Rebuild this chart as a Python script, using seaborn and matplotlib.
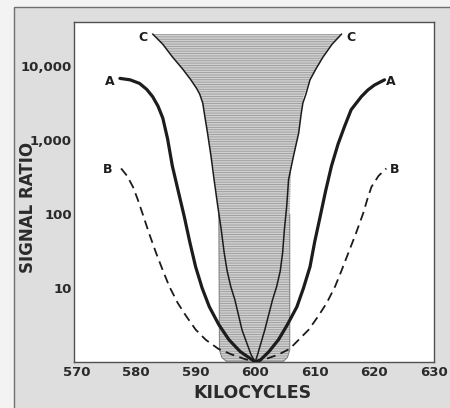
import numpy as np
import pandas as pd
import matplotlib
matplotlib.use("Agg")
from matplotlib import pyplot as plt
from matplotlib.patches import Rectangle
import seaborn as sns

sns.set_style("white")
plt.rcParams['font.family'] = ['DejaVu Sans']
plt.rcParams['hatch.linewidth'] = 0.6

# values (kilocycles / signal ratio)
A_kc = [577.3, 579.0, 580.6, 581.8, 582.8, 583.7, 584.5, 585.3, 586.1, 587.1, 588.1, 589.0,
        590.0, 591.1, 592.3, 593.9, 595.6, 597.5, 599.5, 600.0,
        600.9, 602.3, 603.9, 605.4, 607.0, 608.1, 609.2, 610.0, 610.9, 611.8, 612.8,
        613.9, 615.0, 616.1, 617.8, 618.9, 620.0, 621.7]
A_ratio = [6900, 6600, 5900, 4900, 3900, 2900, 2000, 1050, 450, 204, 93, 43,
           19.5, 10, 5.6, 3.2, 2.0, 1.38, 1.07, 1.0,
           1.07, 1.38, 2.0, 3.2, 5.6, 10, 19.5, 43, 93, 204, 450,
           890, 1550, 2600, 3900, 4800, 5600, 6600]

B_kc = [577.5, 578.5, 579.5, 580.3, 581.1, 582.2, 583.4, 584.5, 585.6, 587.0, 588.4, 590.0,
        591.7, 593.8, 596.1, 598.2, 600.0,
        601.8, 603.9, 605.8, 607.3, 609.0, 610.6, 612.0, 613.4, 614.5, 615.6, 616.9,
        618.1, 618.8, 619.5, 620.7, 622.0]
B_ratio = [417, 331, 234, 158, 102, 55, 29.5, 17.4, 10.5, 6.3, 4.2, 2.75,
           2.0, 1.51, 1.26, 1.10, 1.0,
           1.10, 1.26, 1.51, 2.0, 2.75, 4.2, 6.3, 10.5, 17.4, 29.5, 55,
           102, 158, 234, 331, 417]

C_kc = [582.8, 584.5, 586.1, 587.8, 589.2, 590.2, 590.7, 591.2, 591.5, 592.0, 592.6, 593.1, 593.7,
        594.3, 594.8, 595.3, 595.9, 596.6, 597.8, 599.3, 600.0,
        600.4, 601.6, 602.9, 603.6, 604.2, 604.6, 604.9, 605.3, 605.6, 606.4, 607.3, 607.7,
        608.0, 608.5, 609.2, 610.2, 611.4, 612.9, 614.5]
C_ratio = [27500, 20000, 13500, 9300, 6600, 5000, 4200, 3200, 2240, 1260, 600, 295, 132,
           62, 30, 17, 10.5, 6.9, 2.7, 1.26, 1.0,
           1.26, 2.7, 6.9, 10.5, 17, 30, 62, 132, 295, 600, 1260, 2240,
           3200, 4200, 6600, 9300, 13500, 20000, 27500]

# shaded pass band outline
shade_ratio = [27500, 20000, 13500, 9300, 6600, 5000, 3900, 2240, 1260, 600, 400, 100,
               1.45, 1.15, 1.0]
shade_left = [582.8, 584.5, 586.1, 587.8, 589.2, 590.2, 590.9, 591.5, 592.0, 592.6, 593.0, 593.9,
              594.0, 594.4, 595.3]
shade_right = [614.5, 612.9, 611.4, 610.2, 609.2, 608.6, 608.1, 607.7, 607.3, 606.4, 606.0, 605.8,
               605.8, 605.4, 604.6]

xticks = [570, 580, 590, 600, 610, 620, 630]
yticks = [10, 100, 1000, 10000]
ytick_labels = ["10", "100", "1,000", "10,000"]

df = pd.concat([
    pd.DataFrame({"kc": A_kc, "ratio": A_ratio, "curve": "A"}),
    pd.DataFrame({"kc": B_kc, "ratio": B_ratio, "curve": "B"}),
    pd.DataFrame({"kc": C_kc, "ratio": C_ratio, "curve": "C"}),
], ignore_index=True)

ink = "#1c1c1c"

fig = plt.figure(figsize=(4.5, 4.08), dpi=100)
fig.patch.set_facecolor("#f3f3f3")
fig.patches.append(Rectangle((14/450, -0.02), 1.0, 1 - 7/408 + 0.02,
                             transform=fig.transFigure, facecolor="#dedede",
                             edgecolor="#6e6e6e", linewidth=1.0, zorder=-5))

ax = fig.add_axes([74/450, 1 - 362/408, 360/450, 340/408])
ax.set_zorder(1)
ax.set_facecolor("white")

# grey hatched band
ax.fill_betweenx(shade_ratio, shade_left, shade_right,
                 facecolor="#d0d0d0", edgecolor="#999999", hatch="-------",
                 linewidth=0.0, zorder=1)
ax.plot(shade_left[11:] + shade_right[11:][::-1], shade_ratio[11:] + shade_ratio[11:][::-1],
        color="#7a7a7a", linewidth=0.7, zorder=1.5)

sns.lineplot(data=df[df.curve == "C"], x="kc", y="ratio", sort=False, estimator=None,
             color=ink, linewidth=1.1, ax=ax, zorder=3)
sns.lineplot(data=df[df.curve == "A"], x="kc", y="ratio", sort=False, estimator=None,
             color=ink, linewidth=2.3, ax=ax, zorder=4)
sns.lineplot(data=df[df.curve == "B"], x="kc", y="ratio", sort=False, estimator=None,
             color=ink, linewidth=1.3, linestyle=(0, (5, 3)), ax=ax, zorder=4)

ax.set_yscale("log")
ax.set_xlim(569.6, 629.6)
ax.set_ylim(1, 40000)
ax.set_xticks(xticks)
ax.set_xticklabels([str(t) for t in xticks])
ax.set_yticks(yticks)
ax.set_yticklabels(ytick_labels)
ax.yaxis.set_minor_locator(matplotlib.ticker.NullLocator())
ax.tick_params(axis="both", length=0, labelsize=9.5, labelcolor="#2a2a2a")
ax.tick_params(axis="x", pad=3)
ax.tick_params(axis="y", pad=1.5)
for lab in ax.get_xticklabels() + ax.get_yticklabels():
    lab.set_fontweight("bold")

for side in ["left", "right", "top", "bottom"]:
    ax.spines[side].set_visible(True)
    ax.spines[side].set_color("#505050")
    ax.spines[side].set_linewidth(1.0)

ax.set_xlabel("KILOCYCLES", fontsize=12.5, fontweight="bold", color="#2a2a2a")
ax.xaxis.label.set_va("center")
ax.xaxis.set_label_coords(0.497, -0.091)
ax.set_ylabel("SIGNAL RATIO", fontsize=12, fontweight="bold", color="#2a2a2a")
ax.yaxis.label.set_va("center")
ax.yaxis.set_label_coords(-0.127, 0.456)

# curve letters
lbl = dict(fontsize=9, fontweight="bold", color=ink, ha="center", va="center")
ax.text(575.6, 6350, "A", **lbl)
ax.text(622.8, 6350, "A", **lbl)
ax.text(575.3, 400, "B", **lbl)
ax.text(623.4, 400, "B", **lbl)
ax.text(581.1, 25000, "C", **lbl)
ax.text(616.1, 24500, "C", **lbl)

fig.savefig("out.png", dpi=100, facecolor=fig.get_facecolor())
